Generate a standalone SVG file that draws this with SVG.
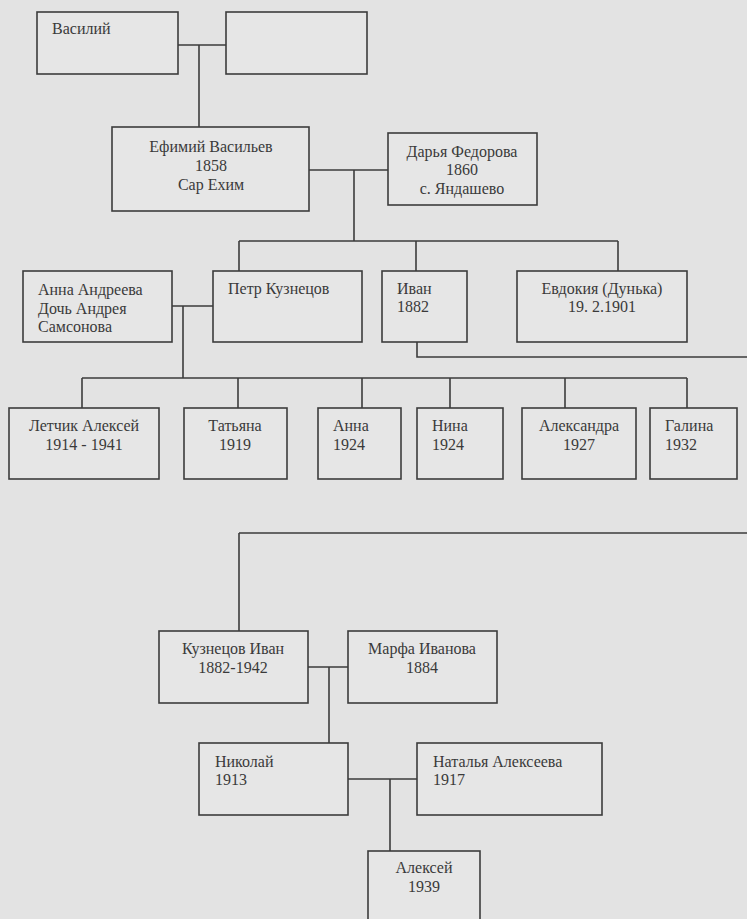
<svg xmlns="http://www.w3.org/2000/svg" width="747" height="919" viewBox="0 0 747 919" font-family="'Liberation Serif', 'DejaVu Serif', 'Times New Roman', serif">
<style>
.bg{fill:#e3e3e3}
.box{fill:#e6e6e6;stroke:#3c3c3c;stroke-width:1.6}
.ln{fill:none;stroke:#3c3c3c;stroke-width:1.6}
text{font-family:'Liberation Serif', 'DejaVu Serif', serif;font-size:16px;fill:#3a3a3a}
.c{text-anchor:middle}
</style>
<rect class="bg" x="0" y="0" width="747" height="919"/>
<g id="connectors">
<path class="ln" d="M178 45H226M199 45V127"/>
<path class="ln" d="M309 170H388M354 170V241M239 241H618M239 241V271M416 241V271M618 241V271"/>
<path class="ln" d="M172 306H213M183 306V378M82 378H687M82 378V408M238 378V408M362 378V408M450 378V408M565 378V408M687 378V408"/>
<path class="ln" d="M417 342V357H747"/>
<path class="ln" d="M239 533H747M239 533V631"/>
<path class="ln" d="M308 667H348M329 667V743"/>
<path class="ln" d="M348 779H417M390 779V851"/>
</g>
<g id="vasiliy"><rect class="box" x="37" y="12" width="141" height="62"/><text x="52" y="34">Василий</text></g>
<g id="empty"><rect class="box" x="226" y="12" width="141" height="62"/></g>
<g id="efimiy"><rect class="box" x="112" y="127" width="197" height="84"/><text class="c" x="211" y="152">Ефимий Васильев</text><text class="c" x="211" y="171">1858</text><text class="c" x="211" y="190">Сар Ехим</text></g>
<g id="darya"><rect class="box" x="388" y="133" width="149" height="72"/><text class="c" x="462" y="157">Дарья Федорова</text><text class="c" x="462" y="175">1860</text><text class="c" x="462" y="194">с. Яндашево</text></g>
<g id="anna-andreeva"><rect class="box" x="23" y="271" width="149" height="71"/><text x="38" y="295">Анна Андреева</text><text x="38" y="314">Дочь Андрея</text><text x="38" y="332">Самсонова</text></g>
<g id="petr"><rect class="box" x="213" y="271" width="149" height="71"/><text x="228" y="294">Петр Кузнецов</text></g>
<g id="ivan"><rect class="box" x="382" y="271" width="85" height="71"/><text x="397" y="294">Иван</text><text x="397" y="312">1882</text></g>
<g id="evdokiya"><rect class="box" x="517" y="271" width="170" height="71"/><text class="c" x="602" y="294">Евдокия (Дунька)</text><text class="c" x="602" y="312">19. 2.1901</text></g>
<g id="letchik"><rect class="box" x="9" y="408" width="150" height="71"/><text class="c" x="84" y="431">Летчик Алексей</text><text class="c" x="84" y="450">1914 - 1941</text></g>
<g id="tatyana"><rect class="box" x="184" y="408" width="103" height="71"/><text class="c" x="235" y="431">Татьяна</text><text class="c" x="235" y="450">1919</text></g>
<g id="anna"><rect class="box" x="318" y="408" width="83" height="71"/><text x="333" y="431">Анна</text><text x="333" y="450">1924</text></g>
<g id="nina"><rect class="box" x="417" y="408" width="86" height="71"/><text x="432" y="431">Нина</text><text x="432" y="450">1924</text></g>
<g id="aleksandra"><rect class="box" x="522" y="408" width="114" height="71"/><text class="c" x="579" y="431">Александра</text><text class="c" x="579" y="450">1927</text></g>
<g id="galina"><rect class="box" x="650" y="408" width="87" height="71"/><text x="665" y="431">Галина</text><text x="665" y="450">1932</text></g>
<g id="kuznetsov-ivan"><rect class="box" x="159" y="631" width="149" height="72"/><text class="c" x="233" y="654">Кузнецов Иван</text><text class="c" x="233" y="673">1882-1942</text></g>
<g id="marfa"><rect class="box" x="348" y="631" width="149" height="72"/><text class="c" x="422" y="654">Марфа Иванова</text><text class="c" x="422" y="673">1884</text></g>
<g id="nikolay"><rect class="box" x="199" y="743" width="149" height="72"/><text x="215" y="767">Николай</text><text x="215" y="785">1913</text></g>
<g id="natalya"><rect class="box" x="417" y="743" width="185" height="72"/><text x="433" y="767">Наталья Алексеева</text><text x="433" y="785">1917</text></g>
<g id="aleksey"><rect class="box" x="368" y="851" width="112" height="80"/><text class="c" x="424" y="873">Алексей</text><text class="c" x="424" y="892">1939</text></g>
</svg>
